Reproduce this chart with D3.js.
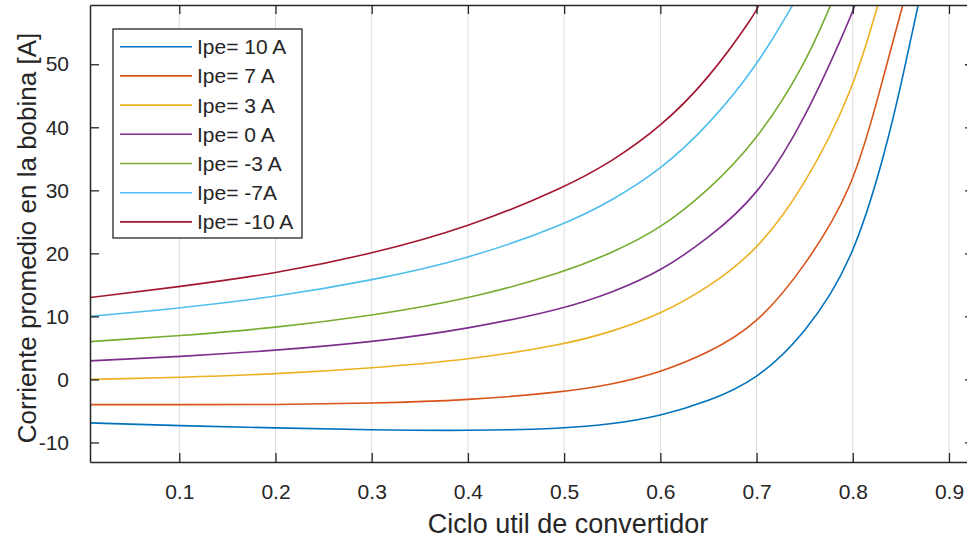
<!DOCTYPE html>
<meta charset="utf-8">
<head>
    <title>Corriente promedio en la bobina</title>
    <script type="text/javascript" src="https://cdn.jsdelivr.net/npm/d3@7"></script>
    <style>
        body { margin: 0; background: #fff; }
        svg { display: block; }
        text { font-family: "Liberation Sans", Arial, Helvetica, sans-serif; fill: #262626; }
    </style>
</head>
<body>
    <div id="chart"></div>
    <script>

        // data: [duty cycle, average current]
        var seriesNames = ["Ipe= 10 A", "Ipe= 7 A", "Ipe= 3 A", "Ipe= 0 A", "Ipe= -3 A", "Ipe= -7A", "Ipe= -10 A"];
        var seriesColors = ["#0072BD", "#D95319", "#EDB120", "#7E2F8E", "#77AC30", "#4DBEEE", "#A2142F"];

        var ipe10 = [[0.0072,-6.9],[0.1,-7.35],[0.2,-7.7],[0.3,-8.0],[0.4,-8.15],[0.5,-7.8],[0.55,-7.1],[0.6,-5.8],[0.65,-3.5],[0.7,-0.1],[0.75,7.1],[0.8,18.6],[0.834,36.2],[0.85,46.6],[0.868,59.4]];
        var ipe7 = [[0.0072,-4.0],[0.1,-4.0],[0.2,-4.0],[0.3,-3.8],[0.4,-3.3],[0.5,-2.0],[0.55,-0.8],[0.6,1.1],[0.65,4.2],[0.7,8.6],[0.75,17.8],[0.8,30.2],[0.826,44.6],[0.852,59.4]];
        var ipe3 = [[0.0072,0.0],[0.1,0.3],[0.2,0.85],[0.3,1.8],[0.4,3.1],[0.5,5.5],[0.55,7.6],[0.6,10.3],[0.65,14.6],[0.7,20.3],[0.75,30.6],[0.8,45.6],[0.826,59.4]];
        var ipe0 = [[0.0072,2.95],[0.1,3.6],[0.2,4.6],[0.3,5.9],[0.4,8.0],[0.5,11.2],[0.55,13.8],[0.6,17.1],[0.65,22.4],[0.7,28.9],[0.75,41.0],[0.8,58.2],[0.802,59.4]];
        var ipeM3 = [[0.0072,6.0],[0.1,6.9],[0.2,8.2],[0.3,10.1],[0.4,12.7],[0.5,17.0],[0.55,20.1],[0.6,23.9],[0.65,30.0],[0.7,37.8],[0.75,49.8],[0.777,59.4]];
        var ipeM7 = [[0.0072,10.0],[0.1,11.3],[0.2,13.1],[0.3,15.7],[0.4,19.1],[0.5,24.5],[0.55,28.4],[0.6,33.2],[0.65,40.3],[0.7,49.6],[0.7375,59.4]];
        var ipeM10 = [[0.0072,13.0],[0.1,14.7],[0.2,16.8],[0.3,19.9],[0.4,24.1],[0.5,30.4],[0.55,34.6],[0.6,40.0],[0.65,47.6],[0.7,58.3],[0.702,59.4]];
        var allSeries = [ipe10, ipe7, ipe3, ipe0, ipeM3, ipeM7, ipeM10];

        var xTicks = [0.1, 0.2, 0.3, 0.4, 0.5, 0.6, 0.7, 0.8, 0.9];
        var yTicks = [-10, 0, 10, 20, 30, 40, 50];

        var width = 967, height = 541;
        var plot = {left: 90, top: 5, right: 974, bottom: 462};

        var svg = d3.select('#chart')
            .append('svg')
            .attr('width', width)
            .attr('height', height);

        var x = d3.scaleLinear().domain([0.0072, 0.926]).range([plot.left, plot.right]);
        var y = d3.scaleLinear().domain([-13.1, 59.4]).range([plot.bottom, plot.top]);

        svg.append('clipPath').attr('id', 'clip')
            .append('rect')
            .attr('x', plot.left).attr('y', plot.top)
            .attr('width', plot.right - plot.left).attr('height', plot.bottom - plot.top);

        // vertical grid only
        svg.append('g')
            .selectAll('line')
            .data(xTicks)
            .enter().append('line')
            .attr('x1', d => x(d)).attr('x2', d => x(d))
            .attr('y1', plot.top).attr('y2', plot.bottom)
            .style('stroke', '#dcdcdc')
            .style('stroke-width', 1);

        // curves (basis smooths out reading noise)
        var line = d3.line()
            .x(d => x(d[0]))
            .y(d => y(d[1]))
            .curve(d3.curveBasis);

        svg.append('g')
            .attr('clip-path', 'url(#clip)')
            .selectAll('path')
            .data(allSeries)
            .enter().append('path')
            .attr('d', line)
            .style('fill', 'none')
            .style('stroke', (d, i) => seriesColors[i])
            .style('stroke-width', 1.6);

        // axes, MATLAB style: ticks inside, box round the plot
        var tickLen = 9;
        var bottomAxis = d3.axisBottom(x).tickValues(xTicks).tickSizeInner(-tickLen).tickSizeOuter(0)
            .tickPadding(22).tickFormat(d3.format('.1f'));
        var topAxis = d3.axisTop(x).tickValues(xTicks).tickSizeInner(-tickLen).tickSizeOuter(0).tickFormat('');
        var leftAxis = d3.axisLeft(y).tickValues(yTicks).tickSizeInner(-tickLen).tickSizeOuter(0)
            .tickPadding(21).tickFormat(d => String(d));
        var rightAxis = d3.axisRight(y).tickValues(yTicks).tickSizeInner(-tickLen).tickSizeOuter(0).tickFormat('');

        function styleAxis(g) {
            g.select('.domain').style('stroke', '#262626').style('stroke-width', 1.5);
            g.selectAll('.tick line').style('stroke', '#262626').style('stroke-width', 1.3);
            g.selectAll('.tick text')
                .style('font-size', '21px')
                .style('fill', '#262626')
                .style('font-family', '"Liberation Sans", Arial, sans-serif');
        }

        svg.append('g').attr('transform', 'translate(0,' + plot.bottom + ')').call(bottomAxis).call(styleAxis);
        svg.append('g').attr('transform', 'translate(0,' + plot.top + ')').call(topAxis).call(styleAxis);
        svg.append('g').attr('transform', 'translate(' + plot.left + ',0)').call(leftAxis).call(styleAxis);
        svg.append('g').attr('transform', 'translate(' + plot.right + ',0)').call(rightAxis).call(styleAxis);

        // axis labels
        svg.append('text')
            .attr('x', 568)
            .attr('y', 533)
            .attr('text-anchor', 'middle')
            .style('font-size', '27px')
            .text('Ciclo util de convertidor');

        svg.append('text')
            .attr('transform', 'translate(36,' + 238 + ') rotate(-90)')
            .attr('text-anchor', 'middle')
            .style('font-size', '26px')
            .text('Corriente promedio en la bobina [A]');

        // legend
        var legend = svg.append('g').attr('transform', 'translate(113,29)');
        legend.append('rect')
            .attr('width', 189).attr('height', 209)
            .style('fill', '#fff')
            .style('stroke', '#262626')
            .style('stroke-width', 1.3);

        var rows = legend.selectAll('g.row')
            .data(seriesNames)
            .enter().append('g')
            .attr('class', 'row')
            .attr('transform', (d, i) => 'translate(0,' + (17.7 + i * 29.2) + ')');
        rows.append('line')
            .attr('x1', 7).attr('x2', 79)
            .style('stroke', (d, i) => seriesColors[i])
            .style('stroke-width', 1.6);
        rows.append('text')
            .attr('x', 84)
            .attr('y', 7.5)
            .style('font-size', '21px')
            .text(d => d);

    </script>
</body>
</html>
